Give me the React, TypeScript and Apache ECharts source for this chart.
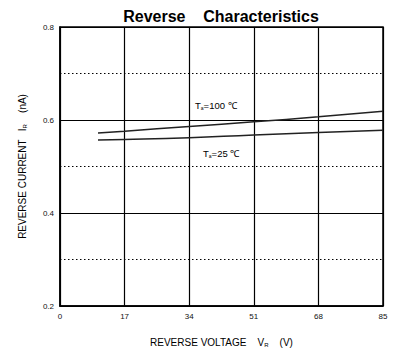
import React, { useEffect, useRef } from "react";
import * as echarts from "echarts";

const voltage100 = [10, 17, 34, 51, 68, 85];
const current100 = [0.572, 0.576, 0.586, 0.596, 0.607, 0.619];
const voltage25 = [10, 17, 34, 51, 68, 85];
const current25 = [0.557, 0.558, 0.562, 0.568, 0.573, 0.578];
const xTicks = [0, 17, 34, 51, 68, 85];
const yTicks = [0.2, 0.4, 0.6, 0.8];

export default function App() {
  const ref = useRef<HTMLDivElement>(null);
  useEffect(() => {
    const chart = echarts.init(ref.current!, null, { renderer: "svg" });
    const font = "Liberation Sans, Arial, sans-serif";
    chart.setOption({
      animation: false,
      backgroundColor: "#fff",
      title: {
        text: "Reverse    Characteristics",
        left: 216,
        textAlign: "center",
        top: 3,
        textStyle: { fontFamily: font, fontSize: 16, fontWeight: "bold", color: "#000" },
      },
      grid: { left: 60, right: 20, top: 27, bottom: 44, show: true, borderColor: "#000", borderWidth: 1.5 },
      xAxis: {
        type: "value",
        min: xTicks[0],
        max: xTicks[xTicks.length - 1],
        interval: 17,
        name: "REVERSE VOLTAGE    V{s|R}    (V)",
        nameLocation: "middle",
        nameGap: 30,
        nameTextStyle: {
          fontFamily: font, fontSize: 10, color: "#000",
          rich: { s: { fontSize: 6, verticalAlign: "bottom", padding: [6, 0, 0, 0], fontFamily: font, color: "#000" } },
        },
        axisLine: { lineStyle: { color: "#000", width: 1.5 } },
        axisTick: { show: false },
        axisLabel: { fontFamily: font, fontSize: 8, color: "#111", margin: 6 },
        splitLine: { show: true, lineStyle: { color: "#000", width: 1.2 } },
      },
      yAxis: {
        type: "value",
        min: 0.2,
        max: 0.8,
        interval: 0.2,
        name: "REVERSE CURRENT   I{s|R}    (nA)",
        nameLocation: "middle",
        nameGap: 32,
        nameRotate: 90,
        nameTextStyle: {
          fontFamily: font, fontSize: 10, color: "#000",
          rich: { s: { fontSize: 6, fontFamily: font, color: "#000", padding: [6, 0, 0, 0] } },
        },
        axisLine: { lineStyle: { color: "#000", width: 1.5 } },
        axisTick: { show: false },
        axisLabel: {
          fontFamily: font, fontSize: 8, color: "#111", margin: 6,
          formatter: (v: number) => (yTicks.some((t) => Math.abs(t - v) < 1e-6) ? v.toFixed(1) : ""),
        },
        splitLine: { show: true, lineStyle: { color: "#000", width: 1.2 } },
        minorTick: { show: false, splitNumber: 2 },
        minorSplitLine: { show: true, lineStyle: { color: "#000", width: 1, type: [1.5, 2.5] } },
      },
      series: [
        {
          type: "line",
          data: voltage100.map((v, i) => [v, current100[i]]),
          showSymbol: false,
          smooth: true,
          lineStyle: { color: "#222", width: 1.5 },
        },
        {
          type: "line",
          data: voltage25.map((v, i) => [v, current25[i]]),
          showSymbol: false,
          smooth: true,
          lineStyle: { color: "#222", width: 1.5 },
        },
      ],
      graphic: [
        {
          type: "text",
          x: 195,
          y: 100,
          style: {
            text: "T{s|a}=100 ℃",
            fontFamily: font,
            fontSize: 9.5,
            fill: "#000",
            rich: { s: { fontSize: 5, fontFamily: font, fill: "#000", padding: [5, 0, 0, 0] } },
          },
        },
        {
          type: "text",
          x: 203,
          y: 148,
          style: {
            text: "T{s|a}=25 ℃",
            fontFamily: font,
            fontSize: 9.5,
            fill: "#000",
            rich: { s: { fontSize: 5, fontFamily: font, fill: "#000", padding: [5, 0, 0, 0] } },
          },
        },
      ],
    });
    return () => chart.dispose();
  }, []);
  return <div ref={ref} style={{ width: 403, height: 353, position: "absolute", left: 0, top: 0 }} />;
}
